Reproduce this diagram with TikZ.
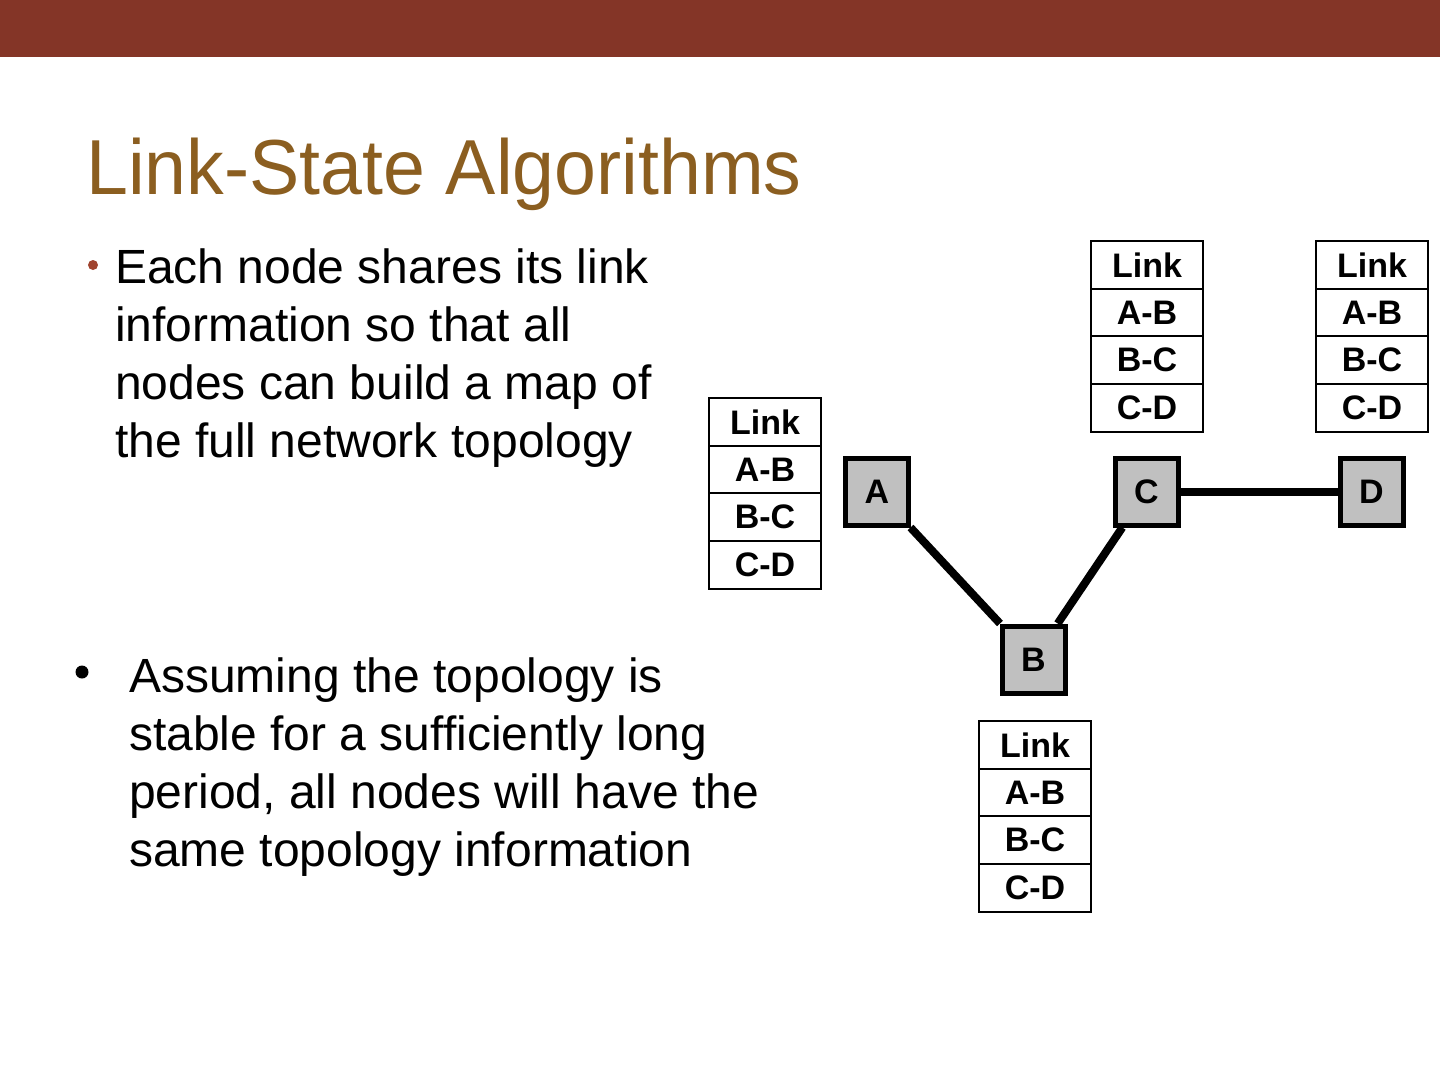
\documentclass[tikz,border=0pt]{standalone}
\usepackage{fontspec}
\setmainfont{Liberation Sans}
\newfontfamily\titlefont[FakeStretch=0.965]{Liberation Sans}
\definecolor{barred}{HTML}{843527}
\definecolor{titlebrown}{HTML}{8B5E20}
\definecolor{dotred}{HTML}{A0442F}
\definecolor{routergray}{HTML}{C0C0C0}
\tikzset{
      cellbox/.style={
        draw=black,
        line width=2pt,
        fill=white,
        minimum width=112pt,
        minimum height=47.7pt,
        inner sep=0pt,
        anchor=north west,
        font=\fontsize{34}{40}\selectfont\bfseries
      },
      routerbox/.style={
        draw=black,
        line width=5pt,
        fill=routergray,
        minimum width=63pt,
        minimum height=67pt,
        inner sep=0pt,
        font=\fontsize{34}{40}\selectfont\bfseries
      },
      linkline/.style={line width=8pt, draw=black},
      bodytext/.style={
        font=\fontsize{48}{58}\selectfont,
        align=left,
        inner sep=0pt,
        anchor=base west
      }
    }
% one link table: name, left x, top y
\newcommand{\linktable}[3]{%
  \foreach \txt [count=\i from 0] in {Link,A-B,B-C,C-D}
    \node[cellbox] (#1-\i) at (#2,{#3+\i*47.7}) {\txt};%
}

\begin{document}
\begin{tikzpicture}[x=1pt,y=-1pt]
    \useasboundingbox (0,0) rectangle (1440,1080);
    \fill[barred] (0,0) rectangle (1440,57);
    \node[anchor=base west, inner sep=0pt, text=titlebrown,
      font=\titlefont\fontsize{78}{80}\selectfont] (title) at (86,194) {Link-State Algorithms};
    % bullets, text anchored at the last line
    \node[circle, fill=dotred, inner sep=0pt, minimum size=10pt] (dot1) at (93,265) {};
    \node[bodytext] (text1) at (115,457) {Each node shares its link\\information so that all\\nodes can build a map of\\the full network topology};
    \node[circle, fill=black, inner sep=0pt, minimum size=13pt] (dot2) at (82,672) {};
    \node[bodytext] (text2) at (129,866) {Assuming the topology is\\stable for a sufficiently long\\period, all nodes will have the\\same topology information};
    \node[routerbox] (A) at (877,491.5) {A};
    \node[routerbox] (C) at (1146.5,491.5) {C};
    \node[routerbox] (D) at (1371.5,491.5) {D};
    \node[routerbox] (B) at (1033.5,659.5) {B};
    \draw[linkline] (A) -- (B);
    \draw[linkline] (C) -- (B);
    \draw[linkline] (C) -- (D);
    \linktable{tabA}{708}{397}
    \linktable{tabC}{1090}{240}
    \linktable{tabD}{1315}{240}
    \linktable{tabB}{978}{720}
    \end{tikzpicture}
\end{document}
